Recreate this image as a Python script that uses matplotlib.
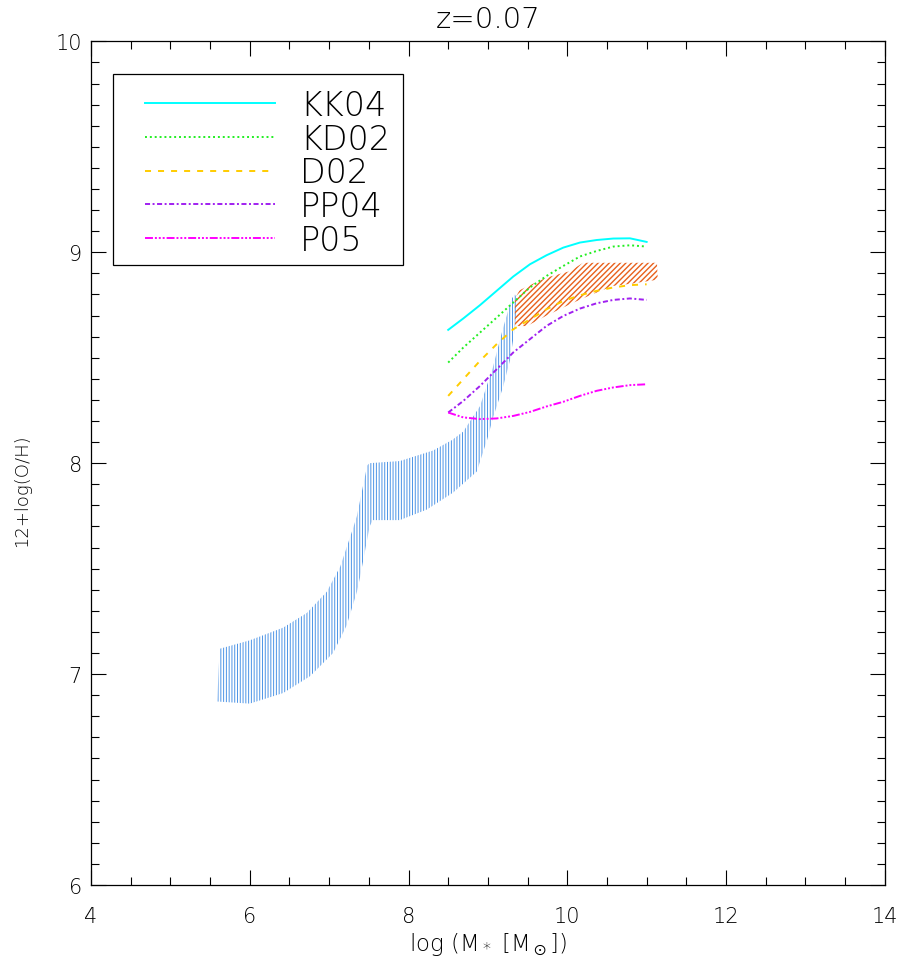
import matplotlib
matplotlib.use('Agg')
import matplotlib.pyplot as plt
from matplotlib.patches import Rectangle
from matplotlib.ticker import MultipleLocator

plt.rcParams['font.family'] = ['DejaVu Sans']
plt.rcParams['font.weight'] = 'light'
plt.rcParams['mathtext.fontset'] = 'dejavusans'

# model band (blue): upper edge left->right, lower edge right->left
band_upper_x = [5.62, 6.00, 6.42, 6.72, 6.97, 7.14, 7.30, 7.35, 7.48, 7.51, 7.89,
                8.31, 8.55, 8.69, 8.90, 9.06, 9.19, 9.30, 9.34]
band_upper_y = [7.12, 7.16, 7.22, 7.29, 7.39, 7.51, 7.69, 7.75, 7.99, 8.00, 8.01,
                8.06, 8.11, 8.15, 8.27, 8.45, 8.64, 8.78, 8.80]
band_lower_x = [9.37, 9.34, 9.28, 9.19, 9.06, 8.99, 8.86, 8.56, 8.23, 7.89, 7.55,
                7.51, 7.39, 7.35, 7.22, 7.05, 6.76, 6.42, 6.00, 5.59]
band_lower_y = [8.78, 8.64, 8.49, 8.36, 8.21, 8.11, 7.96, 7.86, 7.78, 7.73, 7.73,
                7.70, 7.46, 7.39, 7.23, 7.10, 6.99, 6.91, 6.86, 6.87]

# observed region (orange)
obs_upper_x = [9.34, 9.40, 9.62, 9.74, 10.03, 10.20, 11.13]
obs_upper_y = [8.78, 8.82, 8.86, 8.88, 8.91, 8.95, 8.95]
obs_lower_x = [11.14, 10.79, 10.57, 10.25, 10.07, 9.74, 9.49, 9.34]
obs_lower_y = [8.87, 8.85, 8.84, 8.79, 8.76, 8.70, 8.65, 8.65]

# mass-metallicity relations for each calibration
mass = [8.50, 8.69, 8.90, 9.11, 9.32, 9.53, 9.74, 9.95, 10.16, 10.37, 10.58, 10.79, 11.00]
kk04_y = [8.632, 8.686, 8.749, 8.817, 8.885, 8.943, 8.986, 9.022, 9.046, 9.058, 9.065, 9.066, 9.049]
kd02_y = [8.477, 8.548, 8.619, 8.690, 8.762, 8.833, 8.888, 8.935, 8.980, 9.006, 9.027, 9.033, 9.027]
d02_y = [8.319, 8.398, 8.485, 8.564, 8.635, 8.682, 8.730, 8.769, 8.796, 8.817, 8.833, 8.844, 8.848]
pp04_y = [8.240, 8.295, 8.366, 8.445, 8.525, 8.588, 8.651, 8.698, 8.733, 8.758, 8.774, 8.781, 8.774]
p05_y = [8.240, 8.217, 8.209, 8.212, 8.224, 8.243, 8.269, 8.291, 8.319, 8.343, 8.359, 8.370, 8.374]

labels = ['KK04', 'KD02', 'D02', 'PP04', 'P05']
colors = ['#00ffff', '#22ee22', '#ffcc00', '#a020f0', '#ff00ff']
styles = ['-', (0, (1, 1.5)), (0, (3.1, 3.6)), (0, (2.6, 1.3, 1.0, 1.3)),
          (0, (4.1, 1.0, 1.0, 1.0, 1.0, 1.0, 1.0, 1.0))]

fig = plt.figure(figsize=(9.01, 9.62), dpi=100)
ax = fig.add_axes([0.101, 0.079, 0.881, 0.877])

plt.rcParams['hatch.linewidth'] = 0.7
ax.fill(band_upper_x + band_lower_x, band_upper_y + band_lower_y,
        facecolor='none', edgecolor='#4d94e6', linewidth=0, hatch='||||||')

curves = [kk04_y, kd02_y, d02_y, pp04_y, p05_y]
handles = []
for cy, lab, col, ls in zip(curves, labels, colors, styles):
    h, = ax.plot(mass, cy, color=col, linestyle=ls, linewidth=1.4, label=lab)
    handles.append(h)

plt.rcParams['hatch.linewidth'] = 1.0
ax.fill(obs_upper_x + obs_lower_x, obs_upper_y + obs_lower_y,
        facecolor='none', edgecolor='#e8601c', linewidth=0, hatch='//////')

ax.set_xlim(4, 14)
ax.set_ylim(6, 10)
ax.xaxis.set_major_locator(MultipleLocator(2))
ax.xaxis.set_minor_locator(MultipleLocator(0.5))
ax.yaxis.set_major_locator(MultipleLocator(1))
ax.yaxis.set_minor_locator(MultipleLocator(0.1))
ax.tick_params(which='both', direction='in', top=True, right=True, width=0.8,
               labelsize=15)
ax.tick_params(which='major', length=11)
ax.tick_params(which='minor', length=5.8)
ax.tick_params(axis='x', pad=15)
ax.tick_params(axis='y', pad=6.5)
for sp in ax.spines.values():
    sp.set_linewidth(0.9)

ax.set_title('z=0.07', fontsize=21, pad=10, fontweight='light')
ax.set_xlabel(r'log (M$_*$ [M$_\odot$])', fontsize=16.5, fontweight='light')
ax.xaxis.set_label_coords(0.5, -0.054)
ax.xaxis.label.set_va('top')
ax.set_ylabel('12+log(O/H)', fontsize=13, fontweight='light')
ax.yaxis.set_label_coords(-0.076, 0.469)

# legend box
ax.add_patch(Rectangle((0.0277, 0.735), 0.365, 0.226, transform=ax.transAxes,
                       facecolor='white', edgecolor='black', linewidth=0.9, zorder=4))
ax.legend(handles=handles, loc='upper left', bbox_to_anchor=(0.068, 0.9436),
          frameon=False, fontsize=24, handlelength=3.9, handletextpad=0.75,
          borderpad=0, borderaxespad=0, labelspacing=0.02).set_zorder(5)

fig.savefig('out.png', dpi=100)
